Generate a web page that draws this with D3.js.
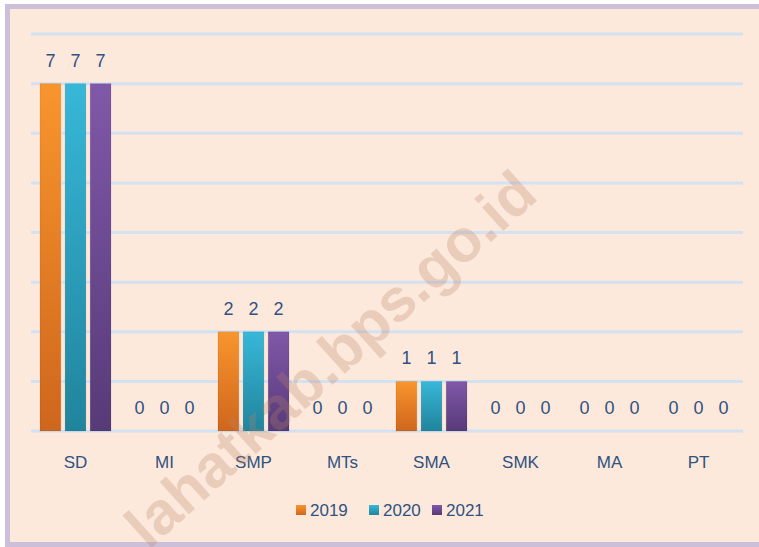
<!DOCTYPE html>
<html>
<head>
<meta charset="utf-8">
<script src="https://cdn.jsdelivr.net/npm/d3@7"></script>
<style>
  body { margin: 0; background: #fff; }
  svg { display: block; }
  text { font-family: "Liberation Sans", Arial, sans-serif; }
</style>
</head>
<body>
<svg width="759" height="547"></svg>
<script>
var categories = ["SD", "MI", "SMP", "MTs", "SMA", "SMK", "MA", "PT"];
var years = ["2019", "2020", "2021"];
var v2019 = [7, 0, 2, 0, 1, 0, 0, 0];
var v2020 = [7, 0, 2, 0, 1, 0, 0, 0];
var v2021 = [7, 0, 2, 0, 1, 0, 0, 0];
var yTicks = [0, 1, 2, 3, 4, 5, 6, 7, 8];

var series = [v2019, v2020, v2021];
var colorTop = ["#f9952d", "#37b7d8", "#8058a9"];
var colorBot = ["#cf661d", "#21849d", "#573a78"];
var textColor = "#2f5281";

var svg = d3.select("svg"),
    width = +svg.attr("width"),
    height = +svg.attr("height");

// frame
svg.append("rect")
    .attr("x", 7.5).attr("y", 6.5)
    .attr("width", 770).attr("height", 538)
    .attr("fill", "#fde9db")
    .attr("stroke", "#cbbfd9")
    .attr("stroke-width", 5);

var defs = svg.append("defs");
years.forEach(function(y, i) {
  var g = defs.append("linearGradient")
      .attr("id", "grad" + i)
      .attr("x1", 0).attr("y1", 0).attr("x2", 0).attr("y2", 1);
  g.append("stop").attr("offset", "0%").attr("stop-color", colorTop[i]);
  g.append("stop").attr("offset", "100%").attr("stop-color", colorBot[i]);
});

var x = d3.scaleBand()
    .domain(categories)
    .range([31, 743]);

var x1 = d3.scaleBand()
    .domain(years)
    .range([9, 80])
    .paddingInner(0.17);

var y = d3.scaleLinear()
    .domain([0, 8])
    .range([431, 34]);

// gridlines
svg.append("g")
  .selectAll("line")
  .data(yTicks)
  .enter().append("line")
    .attr("x1", 31).attr("x2", 743)
    .attr("y1", function(d) { return y(d); })
    .attr("y2", function(d) { return y(d); })
    .attr("stroke", "#d3e1f0")
    .attr("stroke-width", 3);

// bars
var groups = svg.append("g")
  .selectAll("g")
  .data(categories)
  .enter().append("g")
    .attr("transform", function(d) { return "translate(" + x(d) + ",0)"; });

groups.selectAll("rect")
  .data(function(d, ci) { return years.map(function(yr, si) { return {yr: yr, si: si, v: series[si][ci]}; }); })
  .enter().filter(function(d) { return d.v > 0; }).append("rect")
    .attr("x", function(d) { return x1(d.yr); })
    .attr("y", function(d) { return y(d.v); })
    .attr("width", x1.bandwidth())
    .attr("height", function(d) { return y(0) - y(d.v); })
    .attr("fill", function(d) { return "url(#grad" + d.si + ")"; })
    .attr("stroke", "rgba(0,0,0,0.08)")
    .attr("stroke-width", 1);

groups.selectAll("text.val")
  .data(function(d, ci) { return years.map(function(yr, si) { return {yr: yr, v: series[si][ci]}; }); })
  .enter().append("text")
    .attr("class", "val")
    .attr("x", function(d) { return x1(d.yr) + x1.bandwidth() / 2; })
    .attr("y", function(d) { return y(d.v) - 17; })
    .attr("text-anchor", "middle")
    .attr("font-size", 18)
    .attr("fill", textColor)
    .text(function(d) { return d.v; });

// category axis labels
svg.append("g")
  .selectAll("text")
  .data(categories)
  .enter().append("text")
    .attr("x", function(d) { return x(d) + x.bandwidth() / 2; })
    .attr("y", 468)
    .attr("text-anchor", "middle")
    .attr("font-size", 17)
    .attr("fill", textColor)
    .text(function(d) { return d; });

// legend
var legX = [296, 369, 432];
var legend = svg.append("g")
  .selectAll("g")
  .data(years)
  .enter().append("g")
    .attr("transform", function(d, i) { return "translate(" + legX[i] + ",505)"; });
legend.append("rect")
    .attr("width", 10).attr("height", 10)
    .attr("fill", function(d, i) { return "url(#grad" + i + ")"; });
legend.append("text")
    .attr("x", 14).attr("y", 11)
    .attr("font-size", 17)
    .attr("fill", textColor)
    .text(function(d) { return d; });

// watermark
svg.append("text")
    .attr("transform", "translate(540,198) rotate(-42)")
    .attr("text-anchor", "end")
    .attr("font-size", 60)
    .attr("font-weight", "bold")
    .attr("fill", "rgba(185,130,105,0.28)")
    .text("lahatkab.bps.go.id");
</script>
</body>
</html>
